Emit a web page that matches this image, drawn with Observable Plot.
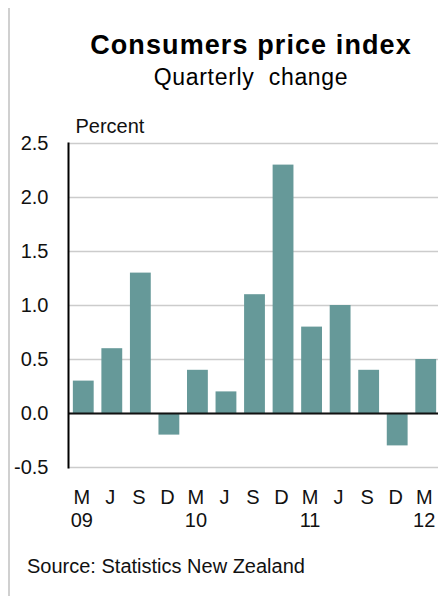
<!DOCTYPE html>
<html>
<head>
<meta charset="utf-8">
<script src="https://cdn.jsdelivr.net/npm/d3@7"></script>
<script src="https://cdn.jsdelivr.net/npm/@observablehq/plot@0.6"></script>
<style>
  body { margin: 0; background: white; font-family: "Liberation Sans", Arial, sans-serif; }
  #wrap { position: relative; width: 438px; height: 596px; overflow: hidden; }
  #border { position: absolute; left: 8px; top: 8px; width: 2px; bottom: 0; background: #d0d0d0; z-index: 2; }
  .title { position: absolute; left: 80px; width: 342px; text-align: center; color: #000; white-space: nowrap; }
  #t1 { top: 32px; font-size: 27px; line-height: 27px; font-weight: bold; letter-spacing: 1.1px; }
  #t2 { top: 66px; font-size: 23px; line-height: 23px; letter-spacing: 0.7px; }
  #chart { position: absolute; left: 0; top: 100px; }
  #source { position: absolute; left: 27px; top: 556px; font-size: 20px; line-height: 20px; color: #111; }
</style>
</head>
<body>
<div id="wrap">
  <div id="border"></div>
  <div class="title" id="t1">Consumers price index</div>
  <div class="title" id="t2">Quarterly&nbsp; change</div>
  <div id="chart"></div>
  <div id="source">Source: Statistics New Zealand</div>
</div>
<script>
// quarters from March 2009 to March 2012
let quarters = ["M", "J", "S", "D", "M", "J", "S", "D", "M", "J", "S", "D", "M"]
let years = ["09", "09", "09", "09", "10", "10", "10", "10", "11", "11", "11", "11", "12"]
let changes = [0.3, 0.6, 1.3, -0.2, 0.4, 0.2, 1.1, 2.3, 0.8, 1.0, 0.4, -0.3, 0.5]
let yTicks = [-0.5, 0, 0.5, 1.0, 1.5, 2.0, 2.5]

let data = quarters.map((q, i) => ({
  key: q + years[i],
  label: q == "M" ? q + "\n" + years[i] : q,
  value: changes[i]
}))

let chart = Plot.plot({
  width: 438,
  height: 440,
  marginTop: 43,
  marginBottom: 73,
  marginLeft: 68,
  marginRight: 0,
  style: { fontSize: "20px", fontFamily: "'Liberation Sans', Arial, sans-serif", color: "#111", background: "transparent" },
  x: {
    type: "band",
    domain: data.map(d => d.key),
    range: [68, 441],
    round: false,
    paddingInner: 0.27,
    paddingOuter: 0.17,
    axis: null
  },
  y: {
    domain: [-0.5, 2.5],
    ticks: yTicks,
    tickFormat: d => d.toFixed(1),
    tickSize: 0,
    tickPadding: 20,
    label: null
  },
  marks: [
    Plot.ruleY(yTicks, { stroke: "#cccccc", strokeWidth: 1.5 }),
    Plot.barY(data, { x: "key", y: "value", fill: "#669999" }),
    Plot.ruleY([0], { stroke: "#111", strokeWidth: 2 }),
    Plot.frame({ anchor: "left", stroke: "#000", strokeWidth: 2, strokeOpacity: 1 }),
    Plot.text(data, {
      x: "key",
      text: "label",
      frameAnchor: "bottom",
      lineAnchor: "top",
      lineHeight: 1.15,
      dy: 20,
      dx: -2,
      fill: "#111"
    }),
    Plot.text(["Percent"], {
      frameAnchor: "top-left",
      textAnchor: "start",
      lineAnchor: "bottom",
      dx: 7,
      dy: -11,
      fill: "#111"
    })
  ]
})

d3.select('#chart').append(() => chart)
</script>
</body>
</html>
